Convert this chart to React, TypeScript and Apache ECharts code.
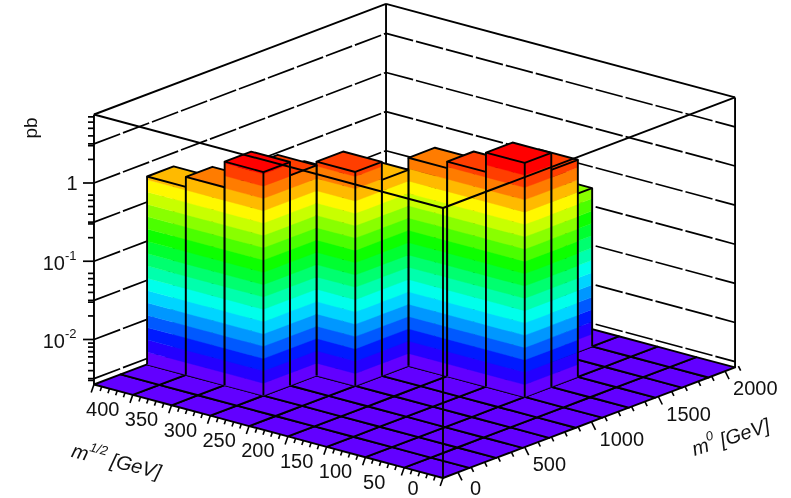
import React, { useEffect, useRef } from "react";
import * as echarts from "echarts";

// ---- data ----
const m12Ticks = [0, 50, 100, 150, 200, 250, 300, 350, 400];
const m0Ticks = [0, 500, 1000, 1500, 2000];
const zLabels = [
  { log: 0, base: "1", sup: "" },
  { log: -1, base: "10", sup: "-1" },
  { log: -2, base: "10", sup: "-2" },
];
const zGridLogs = [0.5, 0, -0.5, -1, -1.5, -2, -2.5];
const zMinorLogs = [0.301, 0.477, 0.602, 0.699, 0.778, 0.845];
const m12Bins = 9; // 50 GeV per bin from 0 to 450
const m0Bins = 11; // about 200 GeV per bin
// cross sections in pb per m1/2 bin (row) and m0 bin (column); null = empty bin
const row0: (number | null)[] = [null, null, null, null, null, null, null, null, null, null, null];
const row1: (number | null)[] = [null, null, null, null, null, null, null, null, null, null, null];
const row2: (number | null)[] = [null, null, null, null, null, null, 2.6, 1.58, null, null, null];
const row3: (number | null)[] = [null, null, null, null, null, null, 1.47, 0.9, 0.6, 0.28, null];
const row4: (number | null)[] = [null, null, null, null, null, null, 1.21, 0.7, 0.4, 0.2, null];
const row5: (number | null)[] = [null, null, null, null, 1.44, 0.85, 0.4, 0.32, 0.24, 0.15, null];
const row6: (number | null)[] = [null, null, 1.91, 1.29, 0.8, 0.5, 0.36, 0.28, 0.2, 0.12, null];
const row7: (number | null)[] = [null, null, 0.9, 0.65, 0.45, 0.33, 0.25, 0.18, 0.14, 0.1, null];
const row8: (number | null)[] = [null, null, 0.67, 0.4, 0.3, 0.2, 0.15, 0.12, 0.1, 0.08, null];
const sigma = [row0, row1, row2, row3, row4, row5, row6, row7, row8];

// ---- projection of the lego box ----
const O = { x: 443, y: 478 };
const STEP_A = { x: -38.78, y: -10.39 };
const STEP_B = { x: 26.55, y: -10.05 };
const BOX_H = 270;
const DECADE = 78.25;
const LOG_MIN = -2.575;
const BANDS = 19;
const BAND_H = 234 / BANDS;
const LINE = "#000";
const LW = 1.9;
const FONT = '"Liberation Sans", Arial, sans-serif';
const INK = "#111";

const zH = (log: number) => (log - LOG_MIN) * DECADE;
const a12 = (m: number) => m / 50;
const b0 = (m: number) => (m + 112) / 198.8;

const hueColor = (h: number) => {
  const c = (n: number) => {
    const k = (n + h / 60) % 6;
    const v = 1 - Math.max(0, Math.min(k, 4 - k, 1));
    return Math.round(255 * v);
  };
  return `rgb(${c(5)},${c(3)},${c(1)})`;
};
const bandColor = (k: number) => hueColor((263 * (BANDS - k)) / (BANDS - 1));

const makeProj = (api: any) => (a: number, b: number, h: number) =>
  api.coord([O.x + STEP_A.x * a + STEP_B.x * b, O.y + STEP_A.y * a + STEP_B.y * b - h]) as number[];

const lineEl = (p: number[], q: number[], extra: any = {}) => ({
  type: "line",
  shape: { x1: p[0], y1: p[1], x2: q[0], y2: q[1] },
  style: { stroke: LINE, lineWidth: LW, ...extra },
});
const polyEl = (points: number[][], fill: string, stroke?: string) => ({
  type: "polygon",
  shape: { points },
  style: stroke ? { fill, stroke, lineWidth: LW, lineJoin: "round" } : { fill, stroke: fill, lineWidth: 0.4 },
});
const textEl = (x: number, y: number, text: string, size: number, align = "center", extra: any = {}) => ({
  type: "text",
  x,
  y,
  style: {
    text,
    fill: INK,
    font: `${size}px ${FONT}`,
    textAlign: align,
    verticalAlign: "middle",
    ...extra,
  },
});

const cells: number[][] = [];
sigma.forEach((row, a) =>
  row.forEach((v, b) => {
    if (v !== null) cells.push([a, b, v]);
  }),
);
cells.sort((p, q) => q[0] + q[1] - (p[0] + p[1]));

const floorCells: number[][] = [];
for (let a = 0; a < m12Bins; a++) for (let b = 0; b < m0Bins; b++) floorCells.push([a, b]);

const baseSeries = { type: "custom", silent: true, clip: false, coordinateSystem: "cartesian2d" };

const barFace = (proj: any, a1: number, b1: number, a2: number, b2: number, top: number) => {
  const out: any[] = [];
  for (let k = 1; (k - 1) * BAND_H < top; k++) {
    const lo = (k - 1) * BAND_H;
    const hi = Math.min(k * BAND_H, top);
    out.push(
      polyEl([proj(a1, b1, lo), proj(a2, b2, lo), proj(a2, b2, hi), proj(a1, b1, hi)], bandColor(Math.min(k, BANDS))),
    );
  }
  return out;
};

const titleStyle = (text: string) => ({
  text,
  textAlign: "center",
  verticalAlign: "middle",
  fill: INK,
  font: `20px ${FONT}`,
  rich: {
    m: { font: `italic 20px ${FONT}`, fill: INK, verticalAlign: "bottom", lineHeight: 24 },
    s: { font: `italic 13px ${FONT}`, fill: INK, verticalAlign: "top", lineHeight: 24 },
    n: { font: `italic 20px ${FONT}`, fill: INK, verticalAlign: "bottom", lineHeight: 24 },
  },
});

const option: any = {
  animation: false,
  grid: { left: 0, right: 0, top: 0, bottom: 0 },
  xAxis: { type: "value", min: 0, max: 791, show: false },
  yAxis: { type: "value", min: 0, max: 498, inverse: true, show: false },
  series: [
    {
      ...baseSeries,
      name: "wall grid",
      z: 1,
      data: zGridLogs.map((l) => [l]),
      renderItem: (_: any, api: any) => {
        const proj = makeProj(api);
        const h = zH(api.value(0));
        const dash = { lineDash: [28, 3], lineWidth: 1.7 };
        return {
          type: "group",
          children: [
            lineEl(proj(m12Bins, 0, h), proj(m12Bins, m0Bins, h), dash),
            lineEl(proj(m12Bins, m0Bins, h), proj(0, m0Bins, h), dash),
          ],
        };
      },
    },
    {
      ...baseSeries,
      name: "back frame",
      z: 2,
      data: [[0]],
      renderItem: (_: any, api: any) => {
        const proj = makeProj(api);
        return {
          type: "group",
          children: [
            lineEl(proj(m12Bins, 0, 0), proj(m12Bins, 0, BOX_H)),
            lineEl(proj(0, m0Bins, 0), proj(0, m0Bins, BOX_H)),
            lineEl(proj(m12Bins, m0Bins, 0), proj(m12Bins, m0Bins, BOX_H)),
            lineEl(proj(m12Bins, 0, BOX_H), proj(m12Bins, m0Bins, BOX_H)),
            lineEl(proj(0, m0Bins, BOX_H), proj(m12Bins, m0Bins, BOX_H)),
          ],
        };
      },
    },
    {
      ...baseSeries,
      name: "floor",
      z: 3,
      data: floorCells,
      renderItem: (_: any, api: any) => {
        const proj = makeProj(api);
        const a = api.value(0);
        const b = api.value(1);
        return polyEl([proj(a, b, 0), proj(a + 1, b, 0), proj(a + 1, b + 1, 0), proj(a, b + 1, 0)], bandColor(1), LINE);
      },
    },
    {
      ...baseSeries,
      name: "sigma",
      z: 4,
      data: cells,
      renderItem: (_: any, api: any) => {
        const proj = makeProj(api);
        const a = api.value(0);
        const b = api.value(1);
        const h = zH(Math.log10(api.value(2)));
        const topBand = Math.min(Math.ceil(h / BAND_H), BANDS);
        return {
          type: "group",
          children: [
            ...barFace(proj, a + 1, b, a, b, h),
            ...barFace(proj, a, b, a, b + 1, h),
            polyEl([proj(a, b, h), proj(a + 1, b, h), proj(a + 1, b + 1, h), proj(a, b + 1, h)], bandColor(topBand), LINE),
            lineEl(proj(a, b, 0), proj(a, b, h)),
            lineEl(proj(a + 1, b, 0), proj(a + 1, b, h)),
            lineEl(proj(a, b + 1, 0), proj(a, b + 1, h)),
          ],
        };
      },
    },
    {
      ...baseSeries,
      name: "front frame",
      z: 5,
      data: [[0]],
      renderItem: (_: any, api: any) => {
        const proj = makeProj(api);
        return {
          type: "group",
          children: [
            lineEl(proj(0, 0, 0), proj(0, 0, BOX_H)),
            lineEl(proj(0, 0, BOX_H), proj(m12Bins, 0, BOX_H)),
            lineEl(proj(0, 0, BOX_H), proj(0, m0Bins, BOX_H)),
          ],
        };
      },
    },
    {
      ...baseSeries,
      name: "z axis",
      z: 6,
      data: [...zGridLogs, ...zLabels.flatMap((l) => zMinorLogs.map((m) => l.log + m)), -2.523, -2.398, -2.301, -2.222, -2.155, -2.097, -2.046]
        .filter((l) => l <= 0.875)
        .map((l) => [l]),
      renderItem: (_: any, api: any) => {
        const proj = makeProj(api);
        const log = api.value(0);
        const p = proj(m12Bins, 0, zH(log));
        const major = Math.abs(log - Math.round(log)) < 1e-6;
        const len = major ? 11 : 6;
        return lineEl(p, [p[0] - len, p[1]], { lineWidth: 1.7 });
      },
    },
    {
      ...baseSeries,
      name: "m12 axis",
      z: 6,
      data: Array.from({ length: 46 }, (_, i) => [i * 10]),
      renderItem: (_: any, api: any) => {
        const proj = makeProj(api);
        const m = api.value(0);
        const p = proj(a12(m), 0, 0);
        const len = m % 50 === 0 ? 8 : 4.5;
        return lineEl(p, [p[0] - len * 0.35, p[1] + len], { lineWidth: 1.6 });
      },
    },
    {
      ...baseSeries,
      name: "m0 axis",
      z: 6,
      data: Array.from({ length: 22 }, (_, i) => [i * 100]),
      renderItem: (_: any, api: any) => {
        const proj = makeProj(api);
        const m = api.value(0);
        const p = proj(0, b0(m), 0);
        const len = m % 500 === 0 ? 8 : 4.5;
        return lineEl(p, [p[0] + len * 0.5, p[1] + len], { lineWidth: 1.6 });
      },
    },
    {
      ...baseSeries,
      name: "m12 labels",
      z: 7,
      data: m12Ticks.map((t) => [t]),
      renderItem: (_: any, api: any) => {
        const proj = makeProj(api);
        const m = api.value(0);
        const p = proj(a12(m), 0, 0);
        return textEl(p[0] - 30, Math.min(p[1] + 14, 487.8), String(m), 20);
      },
    },
    {
      ...baseSeries,
      name: "m0 labels",
      z: 7,
      data: m0Ticks.map((t) => [t]),
      renderItem: (_: any, api: any) => {
        const proj = makeProj(api);
        const m = api.value(0);
        const p = proj(0, b0(m), 0);
        return textEl(p[0] + (m === 0 ? 12 : 8), Math.min(p[1] + 17, 487.8), String(m), 20, "left");
      },
    },
    {
      ...baseSeries,
      name: "z labels",
      z: 7,
      data: zLabels.map((l, i) => [i]),
      renderItem: (_: any, api: any) => {
        const proj = makeProj(api);
        const l = zLabels[api.value(0)];
        const p = proj(m12Bins, 0, zH(l.log));
        if (!l.sup) return textEl(p[0] - 22, p[1], l.base, 20);
        return {
          type: "group",
          children: [
            textEl(p[0] - 29, p[1] + 2, l.base, 20, "right"),
            textEl(p[0] - 29, p[1] - 6, l.sup, 13, "left"),
          ],
        };
      },
    },
    {
      ...baseSeries,
      name: "titles",
      z: 7,
      data: [[0]],
      renderItem: () => ({
        type: "group",
        children: [
          { ...textEl(30, 128, "pb", 19), rotation: Math.PI / 2 },
          {
            type: "text",
            x: 117,
            y: 459,
            rotation: (-14 * Math.PI) / 180,
            style: titleStyle("{m|m}{s|1/2}{n| [GeV]}"),
          },
          {
            type: "text",
            x: 730,
            y: 435,
            rotation: (18 * Math.PI) / 180,
            style: titleStyle("{m|m}{s|0}{n| [GeV]}"),
          },
        ],
      }),
    },
  ],
};

export default function App() {
  const ref = useRef<HTMLDivElement>(null);
  useEffect(() => {
    const chart = echarts.init(ref.current!, undefined, { renderer: "svg" });
    chart.setOption(option);
    return () => chart.dispose();
  }, []);
  return (
    <div
      ref={ref}
      style={{ position: "absolute", left: 0, top: 0, width: 791, height: 498, background: "#fff", filter: "blur(0.6px)" }}
    />
  );
}
